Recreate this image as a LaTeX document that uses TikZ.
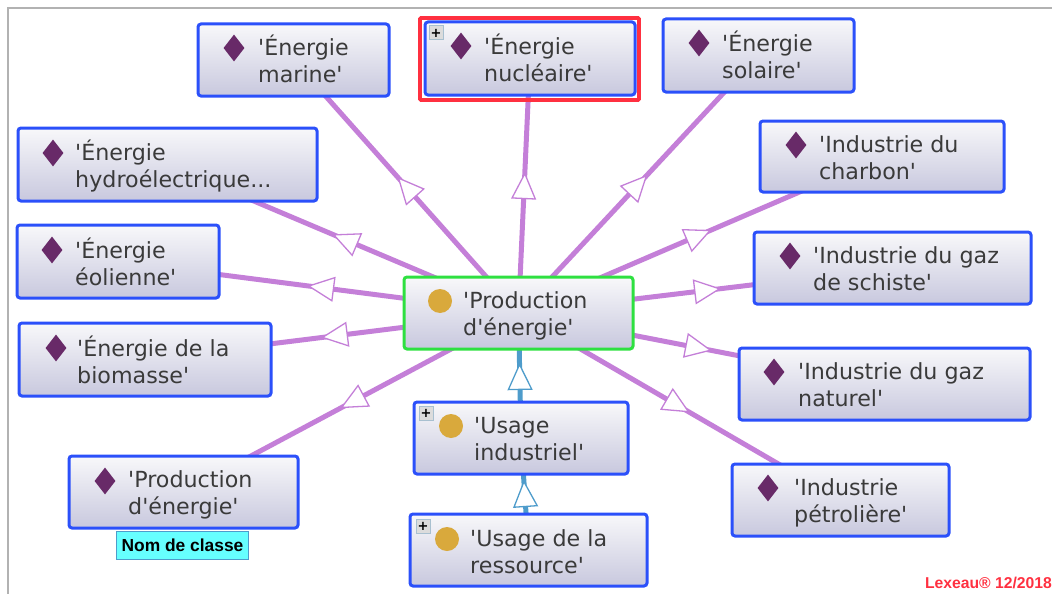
\documentclass[tikz,border=0pt]{standalone}
\usepackage{fontspec}
\newfontfamily\lblfont{DejaVu Sans}
\newfontfamily\arialfont{Liberation Sans}
\usetikzlibrary{shapes.geometric,arrows.meta,decorations.markings,backgrounds}
\definecolor{boxblue}{HTML}{2B50FA}
\definecolor{boxgreen}{HTML}{2EE040}
\definecolor{rellila}{HTML}{C47FD8}
\definecolor{relblue}{HTML}{4E9CCB}
\definecolor{diacol}{HTML}{682A68}
\definecolor{circcol}{HTML}{D9A93C}
\definecolor{txtcol}{HTML}{3A3A3A}
\definecolor{boxtop}{HTML}{F8F8FA}
\definecolor{boxbot}{HTML}{C8C8DE}
\definecolor{tagcol}{HTML}{66FFFF}
\definecolor{markred}{HTML}{FF3040}
\definecolor{plusfill}{HTML}{DCDCDC}
\definecolor{plusline}{HTML}{A8C0D0}
\tikzset{
  ebox/.style={rectangle,rounded corners=3pt,draw=boxblue,line width=3pt,top color=boxtop,bottom color=boxbot,inner sep=0pt},
  gbox/.style={ebox,draw=boxgreen},
  dia/.style={diamond,fill=diacol,minimum width=21pt,minimum height=27pt,inner sep=0pt,aspect=.75},
  circ/.style={circle,fill=circcol,minimum size=24pt,inner sep=0pt},
  lbl/.style={anchor=west,align=left,text=txtcol,font=\lblfont\fontsize{22.2}{27}\selectfont,inner sep=0pt},
  plusbox/.style={rectangle,draw=plusline,fill=plusfill,line width=1pt,minimum size=14pt,inner sep=0pt,font=\lblfont\bfseries\fontsize{13}{13}\selectfont,text=black},
  markbox/.style={rectangle,draw=markred,line width=3.8pt,rounded corners=1pt},
  gen/.style={rellila,line width=5pt,postaction={decorate},decoration={markings,mark=at position #1pt with {\arrow[rellila]{Triangle[length=27pt,width=25pt,line width=1.3pt,fill=white]}}}},
  genb/.style={relblue,line width=5pt,postaction={decorate},decoration={markings,mark=at position #1pt with {\arrow[relblue]{Triangle[length=27pt,width=25pt,line width=1.3pt,fill=white]}}}},
  tagbox/.style={rectangle,fill=tagcol,draw=relblue,line width=1pt,text=black,font=\arialfont\bfseries\fontsize{17.4}{18}\selectfont,inner sep=0pt},
  credit/.style={text=markred,font=\arialfont\bfseries\fontsize{15.7}{16}\selectfont,inner sep=0pt,anchor=east},
  frameline/.style={line width=2pt,draw=gray!60}
}
\newcommand{\entbox}[6][ebox]{\node[#1,minimum width={(#5-#3)*1pt},minimum height={(#6-#4)*1pt}] (#2) at ({(#3+#5)/2},{(#4+#6)/2}) {};}
\begin{document}
\begin{tikzpicture}[x=1pt,y=-1pt]
\useasboundingbox (0,0) rectangle (1052,594);
\coordinate (fa) at (1052,8);
\coordinate (fb) at (8,8);
\coordinate (fc) at (8,594);
\draw[frameline] (fa) -- (fb) -- (fc);
\node[markbox,minimum width=219pt,minimum height=82pt] (mark) at (529.5,59) {};
\entbox{marine}{198}{24}{389}{96}
\entbox{nucl}{425}{22}{635}{95}
\entbox{sol}{663}{19}{854}{92}
\entbox{hydro}{18}{128}{317}{201}
\entbox{eol}{17}{225}{219}{298}
\entbox{bio}{19}{323}{271}{396}
\entbox{pind}{69}{456}{298}{528}
\entbox{charb}{760}{121}{1004}{192}
\entbox{schi}{754}{232}{1031}{304}
\entbox{natu}{739}{348}{1030}{420}
\entbox{petr}{732}{464}{949}{536}
\entbox[gbox]{prod}{404}{277}{633}{349}
\entbox{uind}{414}{402}{628}{474}
\entbox{ures}{410}{514}{647}{586}
\node[dia] (s1) at (234,48) {};
\node[dia] (s2) at (461,46) {};
\node[dia] (s3) at (699,43) {};
\node[dia] (s4) at (53,153) {};
\node[dia] (s5) at (52,250) {};
\node[dia] (s6) at (56,348) {};
\node[dia] (s7) at (105,481) {};
\node[dia] (s8) at (796,145) {};
\node[dia] (s9) at (790,256) {};
\node[dia] (s10) at (774,372) {};
\node[dia] (s11) at (768,488) {};
\node[circ] (c1) at (440,301) {};
\node[circ] (c2) at (451,426) {};
\node[circ] (c3) at (447,539) {};
\node[lbl] (t1) at (258,59) {'Énergie\\marine'};
\node[lbl] (t2) at (484,58) {'Énergie\\nucléaire'};
\node[lbl] (t3) at (722,55) {'Énergie\\solaire'};
\node[lbl] (t4) at (75,166) {'Énergie\\hydroélectrique...};
\node[lbl] (t5) at (75,262) {'Énergie\\éolienne'};
\node[lbl] (t6) at (77,360) {'Énergie de la\\biomasse'};
\node[lbl] (t7) at (128,495) {'Production\\d'énergie'};
\node[lbl] (t8) at (819,158) {'Industrie du\\charbon'};
\node[lbl] (t9) at (813,269) {'Industrie du gaz\\de schiste'};
\node[lbl] (t10) at (798,385) {'Industrie du gaz\\naturel'};
\node[lbl] (t11) at (794,503) {'Industrie\\pétrolière'};
\node[lbl] (t12) at (463,316) {'Production\\d'énergie'};
\node[lbl] (t13) at (474,439) {'Usage\\industriel'};
\node[lbl] (t14) at (470,552) {'Usage de la\\ressource'};
\node[plusbox] (p1) at (436,33) {+};
\node[plusbox] (p2) at (426,413) {+};
\node[plusbox] (p3) at (423,526) {+};
\node[tagbox,minimum width=132pt,minimum height=28pt] (tag) at (182.5,545.5) {Nom de classe};
\node[credit] (cr) at (1052,583) {Lexeau® 12/2018};
\begin{scope}[on background layer]
\draw[gen=182] (prod.center) -- (marine.center);
\draw[gen=141] (prod.center) -- (nucl.center);
\draw[gen=189] (prod.center) -- (sol.center);
\draw[gen=202] (prod.center) -- (hydro.center);
\draw[gen=213] (prod.center) -- (eol.center);
\draw[gen=199] (prod.center) -- (bio.center);
\draw[gen=202] (prod.center) -- (pind.center);
\draw[gen=210] (prod.center) -- (charb.center);
\draw[gen=204] (prod.center) -- (schi.center);
\draw[gen=197] (prod.center) -- (natu.center);
\draw[gen=198] (prod.center) -- (petr.center);
\draw[genb=75] (uind.center) -- (prod.center);
\draw[genb=70] (ures.center) -- (uind.center);
\end{scope}
\end{tikzpicture}
\end{document}
